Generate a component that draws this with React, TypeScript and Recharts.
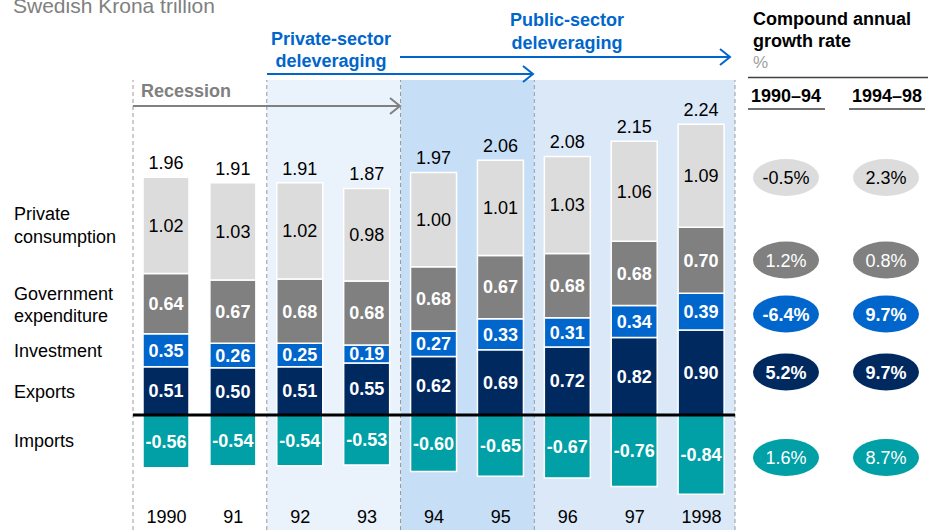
import React from 'react';
import { BarChart, Bar, XAxis, YAxis, ReferenceArea, ReferenceLine, LabelList } from 'recharts';

const years = ['1990', '91', '92', '93', '94', '95', '96', '97', '1998'];
const privateConsumption = [1.02, 1.03, 1.02, 0.98, 1.0, 1.01, 1.03, 1.06, 1.09];
const government = [0.64, 0.67, 0.68, 0.68, 0.68, 0.67, 0.68, 0.68, 0.7];
const investment = [0.35, 0.26, 0.25, 0.19, 0.27, 0.33, 0.31, 0.34, 0.39];
const exportsVals = [0.51, 0.5, 0.51, 0.55, 0.62, 0.69, 0.72, 0.82, 0.9];
const importsVals = [-0.56, -0.54, -0.54, -0.53, -0.6, -0.65, -0.67, -0.76, -0.84];
const totals = [1.96, 1.91, 1.91, 1.87, 1.97, 2.06, 2.08, 2.15, 2.24];

const seriesLabels = ['Private consumption', 'Government expenditure', 'Investment', 'Exports', 'Imports'];
const cagr9094 = ['-0.5%', '1.2%', '-6.4%', '5.2%', '1.6%'];
const cagr9498 = ['2.3%', '0.8%', '9.7%', '9.7%', '8.7%'];
const periods = ['1990–94', '1994–98'];

const data = years.map((y, i) => ({
  year: y,
  priv: privateConsumption[i],
  gov: government[i],
  inv: investment[i],
  exp: exportsVals[i],
  imp: importsVals[i],
  total: totals[i],
}));

const C_PRIV = '#DCDCDC';
const C_GOV = '#808080';
const C_INV = '#0066CC';
const C_EXP = '#002960';
const C_IMP = '#00A0A6';
const BLUE = '#0066CC';
const FONT = '"Liberation Sans", Arial, sans-serif';

const fmt = (v: any) => Number(v).toFixed(2);

const TotalLabel = (props: any) => {
  const vb = props.viewBox && props.viewBox.width !== undefined ? props.viewBox : props;
  const x = vb.x;
  const y = Math.min(vb.y, vb.y + vb.height);
  const w = vb.width;
  return (
    <text x={x + w / 2} y={y - 8} textAnchor="middle" fontSize={18} fill="#000" fontFamily={FONT}>
      {fmt(props.value)}
    </text>
  );
};

const renderYearTick = (props: any) => {
  const { x, y, payload } = props;
  return (
    <text x={x} y={y - 7} textAnchor="middle" fontSize={18} fill="#000" fontFamily={FONT}>
      {payload.value}
    </text>
  );
};

const Chevron = ({ x, y, color }: { x: number; y: number; color: string }) => (
  <polyline points={`${x - 10},${y - 8} ${x},${y} ${x - 10},${y + 8}`} fill="none" stroke={color} strokeWidth={2} />
);

const ovalStyles = [
  { fill: C_PRIV, text: '#000', weight: 'normal' },
  { fill: C_GOV, text: '#fff', weight: 'normal' },
  { fill: C_INV, text: '#fff', weight: 'bold' },
  { fill: C_EXP, text: '#fff', weight: 'bold' },
  { fill: C_IMP, text: '#fff', weight: 'normal' },
];
const ovalRowsY = [177.5, 260, 314, 372, 457.5];
const labelLines = [
  [['Private', 220], ['consumption', 243]],
  [['Government', 300], ['expenditure', 322]],
  [['Investment', 357]],
  [['Exports', 398]],
  [['Imports', 447]],
];

export default function App() {
  return (
    <div style={{ position: 'absolute', left: 0, top: 0, width: 928, height: 532, fontFamily: FONT, background: '#fff' }}>
      <BarChart
        width={928}
        height={532}
        data={data}
        stackOffset="sign"
        margin={{ top: 80, right: 193, left: 133, bottom: 0 }}
        barSize={46}
        style={{ fontFamily: FONT }}
      >
        <XAxis
          dataKey="year"
          height={2}
          axisLine={false}
          tickLine={false}
          tickSize={0}
          tickMargin={0}
          interval={0}
          tick={renderYearTick}
        />
        <YAxis hide domain={[-1.22, 3.55]} allowDataOverflow />
        <ReferenceArea x1="92" x2="93" fill="#EAF2FC" fillOpacity={1} stroke="none" />
        <ReferenceArea x1="94" x2="95" fill="#C6DEF6" fillOpacity={1} stroke="none" />
        <ReferenceArea x1="96" x2="1998" fill="#DAE8F8" fillOpacity={1} stroke="none" />
        <ReferenceLine x="1990" position="start" stroke="#9A9A9A" strokeDasharray="4 3" />
        <ReferenceLine x="92" position="start" stroke="#9A9A9A" strokeDasharray="4 3" />
        <ReferenceLine x="94" position="start" stroke="#9A9A9A" strokeDasharray="4 3" />
        <ReferenceLine x="96" position="start" stroke="#9A9A9A" strokeDasharray="4 3" />
        <ReferenceLine x="1998" position="end" stroke="#9A9A9A" strokeDasharray="4 3" />
        <Bar dataKey="exp" stackId="a" fill={C_EXP} stroke="#fff" strokeWidth={1.5} isAnimationActive={false}>
          <LabelList dataKey="exp" position="center" fill="#fff" fontWeight="bold" fontSize={18} formatter={fmt} />
        </Bar>
        <Bar dataKey="inv" stackId="a" fill={C_INV} stroke="#fff" strokeWidth={1.5} isAnimationActive={false}>
          <LabelList dataKey="inv" position="center" fill="#fff" fontWeight="bold" fontSize={18} formatter={fmt} />
        </Bar>
        <Bar dataKey="gov" stackId="a" fill={C_GOV} stroke="#fff" strokeWidth={1.5} isAnimationActive={false}>
          <LabelList dataKey="gov" position="center" fill="#fff" fontWeight="bold" fontSize={18} formatter={fmt} />
        </Bar>
        <Bar dataKey="priv" stackId="a" fill={C_PRIV} stroke="#fff" strokeWidth={1.5} isAnimationActive={false}>
          <LabelList dataKey="priv" position="center" fill="#000" fontSize={18} formatter={fmt} />
          <LabelList dataKey="total" content={<TotalLabel />} />
        </Bar>
        <Bar dataKey="imp" stackId="a" fill={C_IMP} stroke="#fff" strokeWidth={1.5} isAnimationActive={false}>
          <LabelList dataKey="imp" position="center" fill="#fff" fontWeight="bold" fontSize={18} formatter={fmt} />
        </Bar>
        <ReferenceLine y={0} stroke="#000" strokeWidth={3} />
      </BarChart>

      <svg
        width={928}
        height={532}
        style={{ position: 'absolute', left: 0, top: 0, pointerEvents: 'none', fontFamily: FONT }}
      >
        <text x={13} y={13} fontSize={21} fill="#808080">Swedish Krona trillion</text>

        {/* Recession */}
        <text x={141} y={97} fontSize={18} fontWeight="bold" fill="#808080">Recession</text>
        <line x1={133} y1={106} x2={399} y2={106} stroke="#808080" strokeWidth={2} />
        <Chevron x={400} y={106} color="#808080" />

        {/* Private-sector deleveraging */}
        <text x={331} y={45} fontSize={18} fontWeight="bold" fill={BLUE} textAnchor="middle">Private-sector</text>
        <text x={331} y={67} fontSize={18} fontWeight="bold" fill={BLUE} textAnchor="middle">deleveraging</text>
        <line x1={267} y1={74} x2={532} y2={74} stroke={BLUE} strokeWidth={2} />
        <Chevron x={533} y={74} color={BLUE} />

        {/* Public-sector deleveraging */}
        <text x={567} y={26} fontSize={18} fontWeight="bold" fill={BLUE} textAnchor="middle">Public-sector</text>
        <text x={567} y={49} fontSize={18} fontWeight="bold" fill={BLUE} textAnchor="middle">deleveraging</text>
        <line x1={400} y1={57} x2={729} y2={57} stroke={BLUE} strokeWidth={2} />
        <Chevron x={730} y={57} color={BLUE} />

        {/* Left series labels */}
        {labelLines.map((lines, i) =>
          lines.map(([t, y], j) => (
            <text key={`${i}-${j}`} x={14} y={y as number} fontSize={18} fill="#000">{t as string}</text>
          ))
        )}

        {/* Right panel */}
        <text x={753} y={25} fontSize={18} fontWeight="bold" fill="#000">Compound annual</text>
        <text x={753} y={47} fontSize={18} fontWeight="bold" fill="#000">growth rate</text>
        <text x={753} y={68} fontSize={17} fill="#A0A0A0">%</text>
        <line x1={748} y1={77.5} x2={928} y2={77.5} stroke="#404040" strokeWidth={1.5} />
        <text x={786} y={102} fontSize={18} fontWeight="bold" fill="#000" textAnchor="middle">{periods[0]}</text>
        <text x={887} y={102} fontSize={18} fontWeight="bold" fill="#000" textAnchor="middle">{periods[1]}</text>
        <line x1={748} y1={109} x2={825} y2={109} stroke="#404040" strokeWidth={1.5} />
        <line x1={849} y1={109} x2={925} y2={109} stroke="#404040" strokeWidth={1.5} />

        {seriesLabels.map((s, i) => (
          <g key={s}>
            <ellipse cx={786} cy={ovalRowsY[i]} rx={33} ry={18.5} fill={ovalStyles[i].fill} />
            <text x={786} y={ovalRowsY[i] + 6.5} fontSize={18} textAnchor="middle" fill={ovalStyles[i].text} fontWeight={ovalStyles[i].weight}>{cagr9094[i]}</text>
            <ellipse cx={886} cy={ovalRowsY[i]} rx={33} ry={18.5} fill={ovalStyles[i].fill} />
            <text x={886} y={ovalRowsY[i] + 6.5} fontSize={18} textAnchor="middle" fill={ovalStyles[i].text} fontWeight={ovalStyles[i].weight}>{cagr9498[i]}</text>
          </g>
        ))}
      </svg>
    </div>
  );
}
